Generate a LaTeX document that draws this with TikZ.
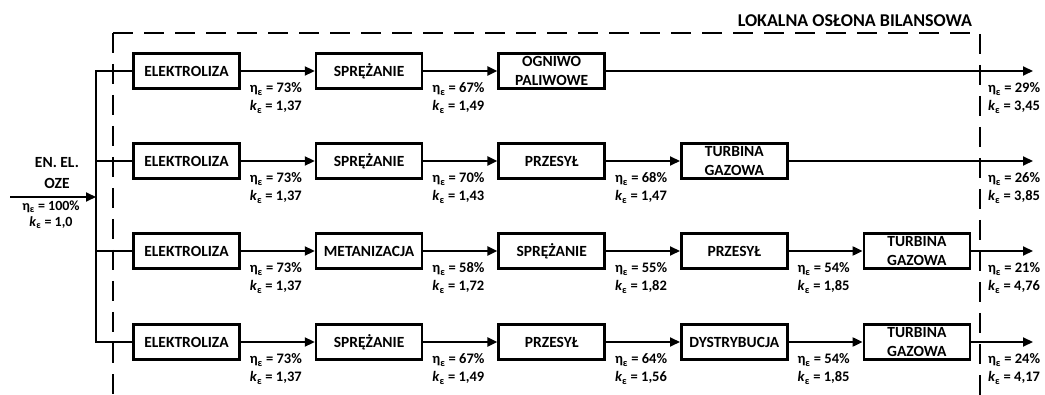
\documentclass[tikz,border=0pt]{standalone}
\usepackage{fontspec}
\setmainfont{Carlito}
\usetikzlibrary{positioning,arrows.meta}
\newcommand{\effpair}[2]{η\textsubscript{ε} = #1\\\textit{k}\textsubscript{ε} = #2}
\begin{document}
\begin{tikzpicture}
[x=1pt,y=1pt,line width=2pt,
  box/.style={draw,line width=2.6pt,minimum width=106pt,minimum height=35pt,
    inner sep=0pt,align=center,font=\fontsize{15.5}{19}\selectfont\bfseries},
  val/.style={anchor=west,align=left,inner sep=0pt,
    font=\fontsize{14.5}{18}\selectfont\bfseries},
  flow/.style={-{Triangle[length=10pt,width=9pt]}},
  shell/.style={line width=2pt,dash pattern=on 20pt off 11pt},
  node distance=74pt]
\useasboundingbox (0,0) rectangle (1045,394);
% balance boundary
\draw[shell] (113,361) -- (113,-5);
\draw[shell] (113,361) -- (980,361) -- (980,-5);
\node[anchor=east,inner sep=0pt,font=\fontsize{18}{20}\selectfont\bfseries]
  (title) at (973,373) {LOKALNA OSŁONA BILANSOWA};
% source
\node[align=center,inner sep=0pt,font=\fontsize{15.5}{21}\selectfont\bfseries]
  (src) at (57,221) {EN. EL.\\OZE};
\node[align=center,inner sep=0pt,font=\fontsize{14}{16}\selectfont\bfseries]
  (srcval) at (51,179.5) {\effpair{100\%}{1,0}};
\coordinate (in) at (10,197);
\coordinate (sin) at (96,197);
\draw[flow] (in) -- (sin);
% row 1
\node[box] (a1) at (186.5,323) {ELEKTROLIZA};
\node[box,right=of a1] (a2) {SPRĘŻANIE};
\node[box,right=of a2] (a3) {OGNIWO\\PALIWOWE};
% row 2
\node[box] (b1) at (186.5,233) {ELEKTROLIZA};
\node[box,right=of b1] (b2) {SPRĘŻANIE};
\node[box,right=of b2] (b3) {PRZESYŁ};
\node[box,right=of b3] (b4) {TURBINA\\GAZOWA};
% row 3
\node[box] (c1) at (186.5,143) {ELEKTROLIZA};
\node[box,right=of c1] (c2) {METANIZACJA};
\node[box,right=of c2] (c3) {SPRĘŻANIE};
\node[box,right=of c3] (c4) {PRZESYŁ};
\node[box,right=of c4] (c5) {TURBINA\\GAZOWA};
% row 4
\node[box] (d1) at (186.5,52) {ELEKTROLIZA};
\node[box,right=of d1] (d2) {SPRĘŻANIE};
\node[box,right=of d2] (d3) {PRZESYŁ};
\node[box,right=of d3] (d4) {DYSTRYBUCJA};
\node[box,right=of d4] (d5) {TURBINA\\GAZOWA};
% bus
\coordinate (s1) at (96,323);
\coordinate (s2) at (96,233);
\coordinate (s3) at (96,143);
\coordinate (s4) at (96,52);
\draw (a1.west) -- (s1) -- (s4) -- (d1.west);
\draw (s2) -- (b1.west);
\draw (s3) -- (c1.west);
% outputs
\coordinate (o1) at (1033,323);
\coordinate (o2) at (1033,233);
\coordinate (o3) at (1033,143);
\coordinate (o4) at (1033,52);
% flows
\draw[flow] (a1) -- (a2);
\draw[flow] (a2) -- (a3);
\draw[flow] (a3) -- (o1);
\draw[flow] (b1) -- (b2);
\draw[flow] (b2) -- (b3);
\draw[flow] (b3) -- (b4);
\draw[flow] (b4) -- (o2);
\draw[flow] (c1) -- (c2);
\draw[flow] (c2) -- (c3);
\draw[flow] (c3) -- (c4);
\draw[flow] (c4) -- (c5);
\draw[flow] (c5) -- (o3);
\draw[flow] (d1) -- (d2);
\draw[flow] (d2) -- (d3);
\draw[flow] (d3) -- (d4);
\draw[flow] (d4) -- (d5);
\draw[flow] (d5) -- (o4);
% values
\node[val] (va1) at ([xshift=8pt,yshift=-27pt]a1.east) {\effpair{73\%}{1,37}};
\node[val] (va2) at ([xshift=8pt,yshift=-27pt]a2.east) {\effpair{67\%}{1,49}};
\node[val] (vo1) at (987,296) {\effpair{29\%}{3,45}};
\node[val] (vb1) at ([xshift=8pt,yshift=-27pt]b1.east) {\effpair{73\%}{1,37}};
\node[val] (vb2) at ([xshift=8pt,yshift=-27pt]b2.east) {\effpair{70\%}{1,43}};
\node[val] (vb3) at ([xshift=8pt,yshift=-27pt]b3.east) {\effpair{68\%}{1,47}};
\node[val] (vo2) at (987,206) {\effpair{26\%}{3,85}};
\node[val] (vc1) at ([xshift=8pt,yshift=-27pt]c1.east) {\effpair{73\%}{1,37}};
\node[val] (vc2) at ([xshift=8pt,yshift=-27pt]c2.east) {\effpair{58\%}{1,72}};
\node[val] (vc3) at ([xshift=8pt,yshift=-27pt]c3.east) {\effpair{55\%}{1,82}};
\node[val] (vc4) at ([xshift=8pt,yshift=-27pt]c4.east) {\effpair{54\%}{1,85}};
\node[val] (vo3) at (987,116) {\effpair{21\%}{4,76}};
\node[val] (vd1) at ([xshift=8pt,yshift=-27pt]d1.east) {\effpair{73\%}{1,37}};
\node[val] (vd2) at ([xshift=8pt,yshift=-27pt]d2.east) {\effpair{67\%}{1,49}};
\node[val] (vd3) at ([xshift=8pt,yshift=-27pt]d3.east) {\effpair{64\%}{1,56}};
\node[val] (vd4) at ([xshift=8pt,yshift=-27pt]d4.east) {\effpair{54\%}{1,85}};
\node[val] (vo4) at (987,25) {\effpair{24\%}{4,17}};
\end{tikzpicture}
\end{document}
